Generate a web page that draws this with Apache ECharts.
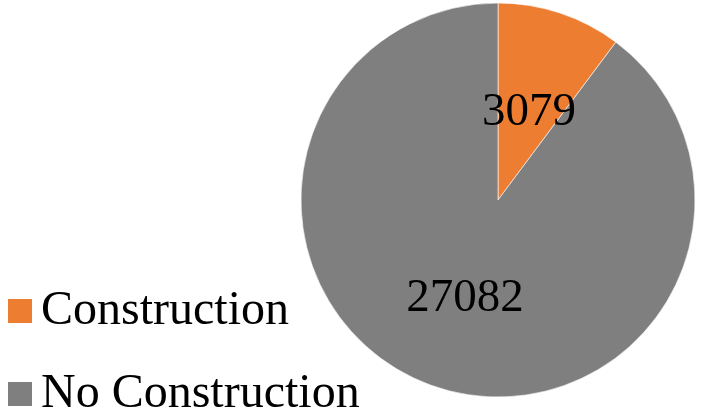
<!DOCTYPE html>
<html>
<head>
<meta charset="utf-8">
<script src="https://cdn.jsdelivr.net/npm/echarts@6/dist/echarts.min.js"></script>
<style>
  html, body { margin: 0; padding: 0; background: #fff; }
  #chart { width: 702px; height: 411px; }
</style>
</head>
<body>
<div id="chart"></div>
<script>
// Site counts split by construction status
const categories = ['Construction', 'No Construction'];
const counts = [3079, 27082];
const colors = ['#ED7D31', '#7F7F7F'];
// small nudges for the in-slice value labels
const labelOffsets = [[-1, 9], [-1, 2]];

const chart = echarts.init(document.getElementById('chart'));
const serif = '"Liberation Serif", "Times New Roman", serif';

chart.setOption({
  animation: false,
  color: colors,
  legend: {
    orient: 'vertical',
    left: 8,
    top: 287,
    height: 200,
    padding: 0,
    icon: 'rect',
    itemWidth: 24,
    itemHeight: 24,
    itemGap: 35,
    itemStyle: { borderWidth: 0 },
    textStyle: { fontFamily: serif, fontSize: 48, lineHeight: 48, color: '#000', padding: [0, 0, 0, 4] },
    data: categories
  },
  series: [{
    type: 'pie',
    center: [498, 200],
    radius: 197,
    startAngle: 90,
    clockwise: true,
    avoidLabelOverlap: false,
    itemStyle: { borderColor: '#fff', borderWidth: 0.6 },
    label: {
      show: true,
      position: 'inside',
      formatter: '{c}',
      fontFamily: serif,
      fontSize: 47,
      color: '#000'
    },
    labelLine: { show: false },
    emphasis: { disabled: true },
    data: categories.map((name, i) => ({
      name,
      value: counts[i],
      label: { offset: labelOffsets[i] }
    }))
  }]
});
</script>
</body>
</html>
